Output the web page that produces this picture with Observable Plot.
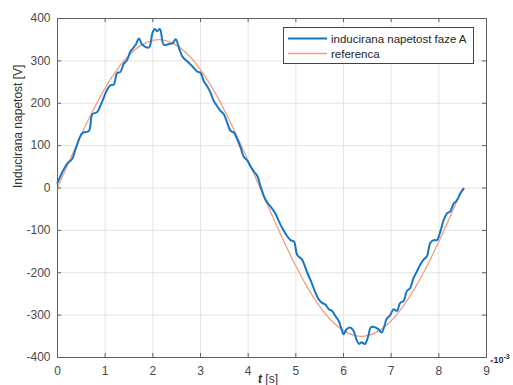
<!DOCTYPE html>
<html><head><meta charset="utf-8">
<script src="https://cdn.jsdelivr.net/npm/d3@7"></script>
<script src="https://cdn.jsdelivr.net/npm/@observablehq/plot@0.6"></script>
<style>
body{margin:0;background:#fff;overflow:hidden}
svg{font-family:Arial,"Liberation Sans",Helvetica,sans-serif}
</style>
</head><body><div id="chart"></div>
<script>
// measured signal (time in ms ×10^-3 s, voltage in V)
const blueT = [0,0.1,0.2,0.31,0.38,0.52,0.66,0.73,0.83,0.94,1.04,1.11,1.18,1.25,1.32,1.39,1.46,1.53,1.64,1.71,1.78,1.92,1.99,2.04,2.09,2.15,2.23,2.34,2.41,2.48,2.55,2.62,2.69,2.76,2.83,2.93,3.0,3.07,3.14,3.21,3.28,3.35,3.42,3.49,3.56,3.63,3.7,3.77,3.84,3.91,3.98,4.05,4.12,4.19,4.26,4.36,4.47,4.57,4.68,4.78,4.89,4.96,5.03,5.13,5.24,5.34,5.41,5.48,5.55,5.62,5.69,5.76,5.83,5.9,5.97,6.0,6.07,6.14,6.21,6.28,6.33,6.38,6.45,6.52,6.57,6.64,6.73,6.8,6.87,6.9,6.98,7.05,7.12,7.19,7.26,7.33,7.4,7.47,7.54,7.61,7.68,7.75,7.82,7.89,7.96,8.03,8.1,8.17,8.24,8.31,8.38,8.45,8.52];
const blueV = [12,37,57,69,92,129,135,174,179,205,232,242,244,271,274,293,302,322,338,353,338,332,365,375,370,375,338,340,341,351,330,310,302,295,287,275,272,252,240,225,205,193,182,174,154,135,131,115,96,73,65,51,39,29,4,-27,-44,-60,-87,-107,-123,-126,-158,-169,-200,-226,-247,-263,-271,-275,-286,-290,-302,-314,-337,-345,-333,-329,-337,-360,-368,-364,-368,-349,-329,-328,-333,-341,-321,-310,-300,-286,-290,-271,-267,-243,-236,-212,-197,-181,-169,-161,-130,-123,-123,-103,-76,-60,-55,-37,-29,-13,-2];
// reference signal
const refT = [0,0.25,0.5,0.75,1,1.25,1.5,1.75,2,2.25,2.5,2.75,3,3.25,3.5,3.75,4,4.25,4.5,4.75,5,5.25,5.5,5.75,6,6.25,6.5,6.75,7,7.25,7.5,7.75,8,8.25,8.5];
const refV = [0,64.3,126.4,184.2,235.8,279.3,313.3,336.6,348.5,348.5,336.6,313.3,279.3,235.8,184.2,126.4,64.3,0,-64.3,-126.4,-184.2,-235.8,-279.3,-313.3,-336.6,-348.5,-348.5,-336.6,-313.3,-279.3,-235.8,-184.2,-126.4,-64.3,0];
const xTicks = [0,1,2,3,4,5,6,7,8,9];
const yTicks = [-400,-300,-200,-100,0,100,200,300,400];
const seriesNames = ["inducirana napetost faze A","referenca"];
const seriesColors = ["#1677C6","#F0A080"];
const yLabel = "Inducirana napetost [V]";

const W=513,H=385,mL=57,mR=27,mT=18,mB=28;
const ph=H-mT-mB, pw=W-mL-mR;
const blue = blueT.map((t,i)=>({t,v:blueV[i]}));
const ref = refT.map((t,i)=>({t,v:refV[i]}));
const axisCol="#606060";

const chart = Plot.plot({
  width:W,height:H,marginLeft:mL,marginRight:mR,marginTop:mT,marginBottom:mB,
  style:{fontFamily:'Arial,"Liberation Sans",Helvetica,sans-serif',fontSize:"11.5px",color:"#4a4a4a",background:"#fff",overflow:"visible"},
  x:{domain:[0,9]}, y:{domain:[-400,400]},
  marks:[
    Plot.ruleX(xTicks,{x:d=>d,stroke:"#e4e4e4"}),
    Plot.ruleY(yTicks,{y:d=>d,stroke:"#e4e4e4"}),
    Plot.line(ref,{x:"t",y:"v",stroke:seriesColors[1],strokeWidth:1.3,curve:"catmull-rom"}),
    Plot.line(blue,{x:"t",y:"v",stroke:seriesColors[0],strokeWidth:2,curve:"catmull-rom"}),
    Plot.tickX(xTicks,{x:d=>d,insetTop:ph-4,stroke:axisCol}),
    Plot.tickX(xTicks,{x:d=>d,insetBottom:ph-4,stroke:axisCol}),
    Plot.tickY(yTicks,{y:d=>d,insetRight:pw-4,stroke:axisCol}),
    Plot.tickY(yTicks,{y:d=>d,insetLeft:pw-4,stroke:axisCol}),
    Plot.frame({stroke:axisCol}),
    Plot.axisX(xTicks,{tickSize:0,tickPadding:9,tickFormat:d=>String(d),label:null,fontSize:12}),
    Plot.axisY(yTicks,{tickSize:0,tickPadding:7,tickFormat:d=>String(d),label:null,fontSize:12}),
    Plot.text([yLabel],{frameAnchor:"left",rotate:-90,dx:-39,fontSize:12,fill:"#303030"})
  ]
});
document.getElementById("chart").appendChild(chart);

const svg = d3.select(chart);
// x label
const xl = svg.append("text").attr("x",268).attr("y",383).attr("text-anchor","middle")
  .attr("font-size",12).attr("fill","#303030");
xl.append("tspan").attr("font-style","italic").attr("font-weight","bold").text("t");
xl.append("tspan").text(" [s]");
// exponent
const ex = svg.append("text").attr("x",490).attr("y",363).attr("text-anchor","start")
  .attr("font-size",9).attr("font-weight","bold").attr("fill","#303030");
ex.append("tspan").attr("font-size",6).text("×");
ex.append("tspan").text("10");
ex.append("tspan").attr("font-size",7).attr("dy",-4).text("-3");
// legend
const lg = svg.append("g").attr("text-anchor","start");
lg.append("rect").attr("x",283.5).attr("y",27.5).attr("width",190).attr("height",36)
  .attr("fill","#fff").attr("stroke","#444").attr("stroke-width",1);
seriesNames.forEach((name,i)=>{
  const y = 38.5 + i*15;
  lg.append("line").attr("x1",288).attr("x2",327).attr("y1",y).attr("y2",y)
    .attr("stroke",seriesColors[i]).attr("stroke-width",i===0?2:1.3);
  lg.append("text").attr("x",331).attr("y",y).attr("dy","0.35em").attr("text-anchor","start")
    .attr("font-size",11.5).attr("fill","#262626").text(name);
});
</script>
</body></html>
